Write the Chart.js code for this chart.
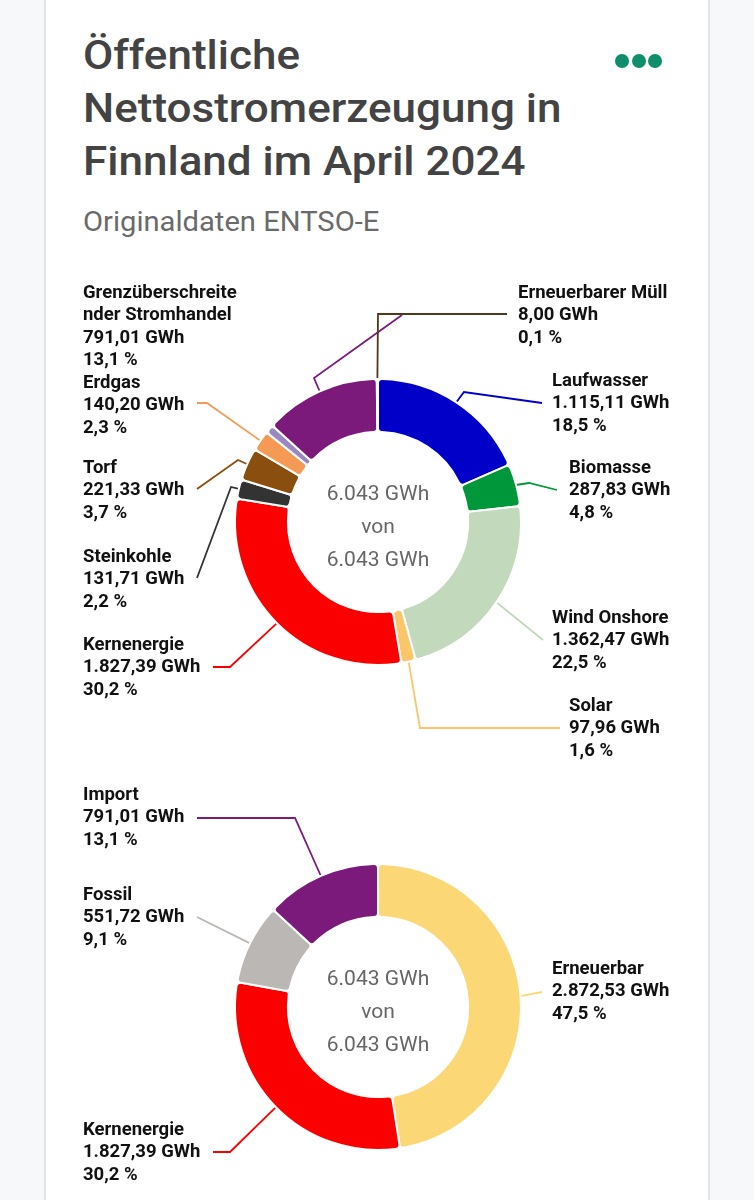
<!DOCTYPE html>
<html>
<head>
<meta charset="utf-8">
<script src="https://cdn.jsdelivr.net/npm/chart.js@4.4.0/dist/chart.umd.min.js"></script>
<style>
  html, body { margin: 0; padding: 0; }
  body { width: 754px; height: 1200px; background: #f7f8fa; position: relative; overflow: hidden; font-family: Roboto, "Noto Sans", sans-serif; }
  .card { position: absolute; left: 44px; top: -10px; width: 662px; height: 1230px; background: #fff; border-left: 2px solid #e3e4e6; border-right: 2px solid #e3e4e6; }
  h1 { position: absolute; left: 83px; top: 29px; margin: 0; font-size: 40px; line-height: 53px; font-weight: 500; color: #434343; transform: scaleX(1.1); transform-origin: left top; white-space: nowrap; }
  .sub { position: absolute; left: 83px; top: 207px; font-size: 27px; line-height: 30px; color: #6a6a6a; transform: scaleX(1.08); transform-origin: left top; white-space: nowrap; }
  .dot { position: absolute; top: 54px; width: 14px; height: 14px; border-radius: 50%; background: #0e8e6b; }
  canvas { position: absolute; left: 0; }
</style>
</head>
<body>
<div class="card"></div>
<h1>Öffentliche<br>Nettostromerzeugung in<br>Finnland im April 2024</h1>
<div class="sub">Originaldaten ENTSO-E</div>
<div class="dot" style="left:615px"></div>
<div class="dot" style="left:632px"></div>
<div class="dot" style="left:648px"></div>
<div style="position:absolute;left:0;top:270px;width:754px;height:500px"><canvas id="chartDetail"></canvas></div>
<div style="position:absolute;left:0;top:770px;width:754px;height:430px"><canvas id="chartGroups"></canvas></div>
<script>
// data (GWh)
var totalGWh = 6043;

var detailNames = ["Laufwasser", "Biomasse", "Wind Onshore", "Solar", "Kernenergie", "Steinkohle", "Torf", "Erdgas", "Sonstige", "Grenzüberschreitender Stromhandel", "Erneuerbarer Müll"];
var detailValues = [1115.11, 287.83, 1362.47, 97.96, 1827.39, 131.71, 221.33, 140.20, 60, 791.01, 8.00];
var detailColors = ['#0000c8', '#00963a', '#c2d9bb', '#fbc66a', '#fa0000', '#333333', '#8a4f0e', '#f59a55', '#9a88c2', '#7c1a7c', '#4e3a18'];

var groupNames = ["Erneuerbar", "Kernenergie", "Fossil", "Import"];
var groupValues = [2872.53, 1827.39, 551.72, 791.01];
var groupColors = ['#fcd776', '#fa0000', '#bab7b4', '#7c1a7c'];

// label placement (page coordinates): first text line centre and leader path after the arc anchor
var detailLabels = [
  { lines: ["Laufwasser"], x: 552, y: 381, path: [[464, 392], [542, 403]] },
  { lines: ["Biomasse"], x: 569, y: 468, path: [[529, 483], [557, 490]] },
  { lines: ["Wind Onshore"], x: 552, y: 618, path: [[506, 610], [543, 640]] },
  { lines: ["Solar"], x: 569, y: 706, path: [[420, 728], [560, 728]] },
  { lines: ["Kernenergie"], x: 83, y: 645, path: [[230, 667], [213, 667]] },
  { lines: ["Steinkohle"], x: 83, y: 557, path: [[231, 487], [197, 578]] },
  { lines: ["Torf"], x: 83, y: 468, path: [[238, 460], [197, 489]] },
  { lines: ["Erdgas"], x: 83, y: 383, path: [[207, 403], [197, 403]] },
  null,
  { lines: ["Grenzüberschreite", "nder Stromhandel"], x: 83, y: 293, path: [[314, 378], [402, 315]] },
  { lines: ["Erneuerbarer Müll"], x: 518, y: 293, path: [[378, 314], [507, 314]] }
];
var groupLabels = [
  { lines: ["Erneuerbar"], x: 552, y: 969, path: [[542, 992]] },
  { lines: ["Kernenergie"], x: 83, y: 1130, path: [[230, 1152], [213, 1152]] },
  { lines: ["Fossil"], x: 83, y: 895, path: [[197, 917]] },
  { lines: ["Import"], x: 83, y: 795, path: [[295, 818], [197, 818]] }
];

function deNum(v, digits) {
  var parts = v.toFixed(digits).split('.');
  var intPart = parts[0].replace(/\B(?=(\d{3})+(?!\d))/g, '.');
  return parts.length > 1 ? intPart + ',' + parts[1] : intPart;
}

function leaderPlugin(labels, top) {
  return {
    id: 'leaders',
    afterDatasetsDraw: function(chart) {
      var ctx = chart.ctx;
      var meta = chart.getDatasetMeta(0);
      var values = chart.data.datasets[0].data;
      var colors = chart.data.datasets[0].backgroundColor;
      ctx.save();
      meta.data.forEach(function(arc, i) {
        var lab = labels[i];
        if (!lab) return;
        var p = arc.getProps(['x', 'y', 'startAngle', 'endAngle', 'outerRadius'], true);
        var mid = (p.startAngle + p.endAngle) / 2;
        ctx.beginPath();
        ctx.moveTo(p.x + Math.cos(mid) * (p.outerRadius + 1), p.y + Math.sin(mid) * (p.outerRadius + 1));
        lab.path.forEach(function(pt) { ctx.lineTo(pt[0], pt[1] - top); });
        ctx.strokeStyle = colors[i];
        ctx.lineWidth = 1.8;
        ctx.stroke();
        var texts = lab.lines.concat([deNum(values[i], 2) + ' GWh', deNum(values[i] / totalGWh * 100, 1) + ' %']);
        ctx.fillStyle = '#111';
        ctx.font = 'bold 18.5px Roboto';
        ctx.textAlign = 'left';
        ctx.textBaseline = 'middle';
        texts.forEach(function(t, k) { ctx.fillText(t, lab.x, lab.y - top + k * 22.5); });
      });
      // centre text
      var a = meta.data[0];
      ctx.fillStyle = '#666';
      ctx.font = '21px Roboto';
      ctx.textAlign = 'center';
      ctx.textBaseline = 'middle';
      ctx.fillText(deNum(totalGWh, 0) + ' GWh', a.x, a.y - 27);
      ctx.fillText('von', a.x, a.y + 6);
      ctx.fillText(deNum(totalGWh, 0) + ' GWh', a.x, a.y + 39);
      ctx.restore();
    }
  };
}

function makeDoughnut(id, names, values, colors, labels, top, padding) {
  return new Chart(document.getElementById(id).getContext('2d'), {
    type: 'doughnut',
    data: {
      labels: names,
      datasets: [{
        data: values,
        backgroundColor: colors,
        borderColor: '#ffffff',
        borderWidth: 2,
        borderRadius: 4
      }]
    },
    options: {
      responsive: true,
      maintainAspectRatio: false,
      animation: false,
      radius: 143,
      cutout: '63%',
      layout: { padding: padding },
      plugins: {
        legend: { display: false },
        tooltip: { enabled: false }
      }
    },
    plugins: [leaderPlugin(labels, top)]
  });
}

makeDoughnut('chartDetail', detailNames, detailValues, detailColors, detailLabels, 270,
  { left: 235, right: 233, top: 109, bottom: 105 });
makeDoughnut('chartGroups', groupNames, groupValues, groupColors, groupLabels, 770,
  { left: 235, right: 233, top: 94, bottom: 50 });
</script>
</body>
</html>
